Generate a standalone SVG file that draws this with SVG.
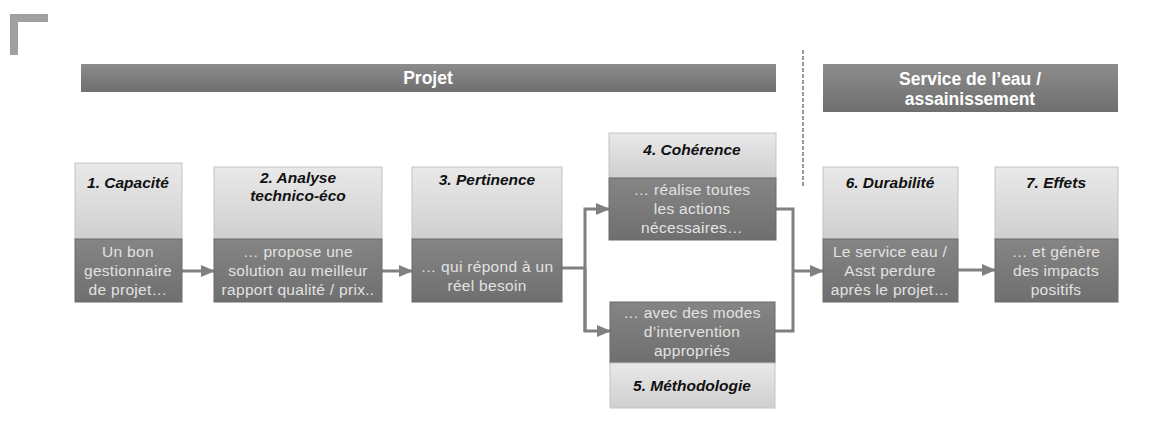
<svg xmlns="http://www.w3.org/2000/svg" width="1171" height="438" viewBox="0 0 1171 438">
<defs>
<linearGradient id="gHead" x1="0" y1="0" x2="0" y2="1"><stop offset="0" stop-color="#e9e9e9"/><stop offset="1" stop-color="#cfcfcf"/></linearGradient>
<linearGradient id="gBody" x1="0" y1="0" x2="0" y2="1"><stop offset="0" stop-color="#858585"/><stop offset="1" stop-color="#6f6f6f"/></linearGradient>
<linearGradient id="gBar" x1="0" y1="0" x2="0" y2="1"><stop offset="0" stop-color="#8c8c8c"/><stop offset="1" stop-color="#6f6f6f"/></linearGradient>
<marker id="arr" markerUnits="userSpaceOnUse" markerWidth="14" markerHeight="12" refX="13" refY="6" orient="auto"><path d="M0,0 L14,6 L0,12 Z" fill="#808080"/></marker>
<style>
.head{fill:url(#gHead);stroke:#c4c4c4;stroke-width:1}
.body{fill:url(#gBody);stroke:#6a6a6a;stroke-width:1}
.bar{fill:url(#gBar)}
.ht{font-family:"Liberation Sans",Arial,sans-serif;font-size:15.5px;font-weight:bold;font-style:italic;fill:#111;text-anchor:middle}
.bt{font-family:"Liberation Sans",Arial,sans-serif;font-size:15.5px;fill:#e2e2e2;text-anchor:middle;letter-spacing:0.3px}
.tt{font-family:"Liberation Sans",Arial,sans-serif;font-size:17.5px;font-weight:bold;fill:#ffffff;text-anchor:middle}
.con{fill:none;stroke:#808080;stroke-width:3}
</style>
</defs>
<rect width="1171" height="438" fill="#ffffff"/>
<path d="M14,55 V18 H48" fill="none" stroke="#a0a0a0" stroke-width="8" stroke-linejoin="miter"/>
<g id="bar-projet">
<rect class="bar" x="81" y="64" width="695" height="28"/>
<text class="tt" x="428" y="84">Projet</text>
</g>
<g id="bar-service">
<rect class="bar" x="823" y="64" width="295" height="48"/>
<text class="tt" x="970" y="85">Service de l’eau /</text>
<text class="tt" x="970" y="105">assainissement</text>
</g>
<line x1="803" y1="50" x2="803" y2="186" stroke="#777" stroke-width="1.5" stroke-dasharray="4,2"/>
<g id="connectors">
<line class="con" x1="182" y1="271" x2="214" y2="271" marker-end="url(#arr)"/>
<line class="con" x1="382" y1="271" x2="412" y2="271" marker-end="url(#arr)"/>
<line class="con" x1="562" y1="268" x2="585" y2="268"/>
<path class="con" d="M585,332 V209 H609" marker-end="url(#arr)"/>
<path class="con" d="M585,268 V331 H610" marker-end="url(#arr)"/>
<path class="con" d="M776,209 H793 V331 H775"/>
<line class="con" x1="793" y1="271" x2="823" y2="271" marker-end="url(#arr)"/>
<line class="con" x1="958" y1="270" x2="995" y2="270" marker-end="url(#arr)"/>
</g>
<g id="node1">
<rect class="head" x="75" y="163" width="107" height="76"/>
<rect class="body" x="75" y="239" width="107" height="63"/>
<text class="ht" x="128" y="188">1. Capacité</text>
<text class="bt" x="128" y="257">Un bon</text>
<text class="bt" x="128" y="276">gestionnaire</text>
<text class="bt" x="128" y="295">de projet…</text>
</g>
<g id="node2">
<rect class="head" x="214" y="167" width="168" height="72"/>
<rect class="body" x="214" y="239" width="168" height="63"/>
<text class="ht" x="298" y="183">2. Analyse</text>
<text class="ht" x="298" y="201">technico-éco</text>
<text class="bt" x="298" y="257">… propose une</text>
<text class="bt" x="298" y="276">solution au meilleur</text>
<text class="bt" x="298" y="295">rapport qualité / prix..</text>
</g>
<g id="node3">
<rect class="head" x="412" y="167" width="150" height="72"/>
<rect class="body" x="412" y="239" width="150" height="63"/>
<text class="ht" x="487" y="185">3. Pertinence</text>
<text class="bt" x="487" y="272">… qui répond à un</text>
<text class="bt" x="487" y="291">réel besoin</text>
</g>
<g id="node4">
<rect class="head" x="609" y="133" width="167" height="45"/>
<rect class="body" x="609" y="178" width="167" height="62"/>
<text class="ht" x="692" y="155">4. Cohérence</text>
<text class="bt" x="692" y="195">… réalise toutes</text>
<text class="bt" x="692" y="214">les actions</text>
<text class="bt" x="692" y="233">nécessaires…</text>
</g>
<g id="node5">
<rect class="body" x="610" y="302" width="165" height="61"/>
<rect class="head" x="610" y="363" width="165" height="45"/>
<text class="bt" x="692" y="318">… avec des modes</text>
<text class="bt" x="692" y="337">d’intervention</text>
<text class="bt" x="692" y="356">appropriés</text>
<text class="ht" x="692" y="391">5. Méthodologie</text>
</g>
<g id="node6">
<rect class="head" x="823" y="167" width="135" height="72"/>
<rect class="body" x="823" y="239" width="135" height="63"/>
<text class="ht" x="890" y="188">6. Durabilité</text>
<text class="bt" x="890" y="257">Le service eau /</text>
<text class="bt" x="890" y="276">Asst perdure</text>
<text class="bt" x="890" y="295">après le projet…</text>
</g>
<g id="node7">
<rect class="head" x="995" y="167" width="123" height="72"/>
<rect class="body" x="995" y="239" width="123" height="63"/>
<text class="ht" x="1056" y="188">7. Effets</text>
<text class="bt" x="1056" y="257">… et génère</text>
<text class="bt" x="1056" y="276">des impacts</text>
<text class="bt" x="1056" y="295">positifs</text>
</g>
</svg>
